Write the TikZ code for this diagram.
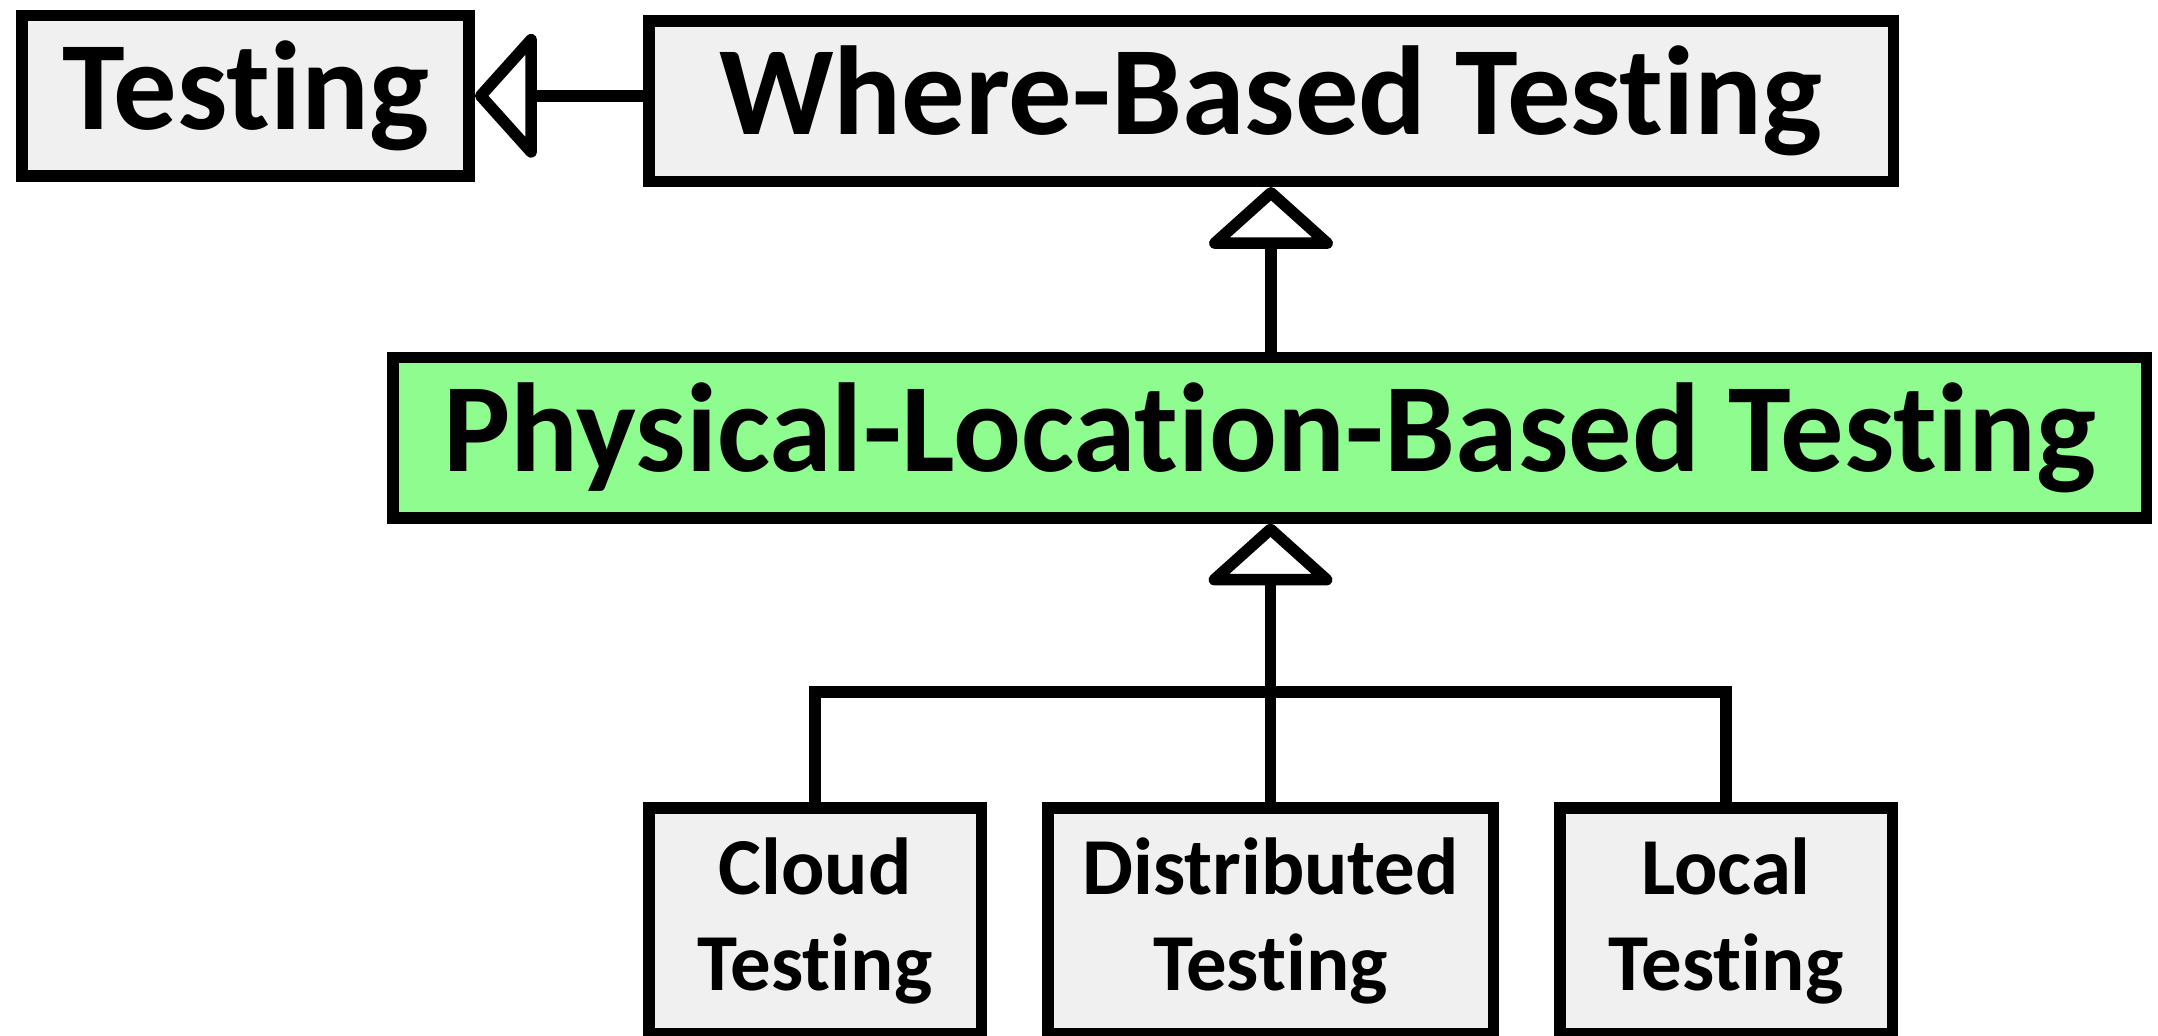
\documentclass[tikz,border=0pt]{standalone}
\usepackage{fontspec}
\setmainfont[Ligatures=NoCommon]{Carlito}
\usetikzlibrary{arrows.meta}
\definecolor{boxgray}{RGB}{240,240,240}
\definecolor{boxgreen}{RGB}{143,252,143}
\tikzset{
  box/.style={draw, line width=0.115cm, fill=boxgray, inner sep=0pt, minimum height=1.605cm, font=\fontsize{36}{40}\selectfont\bfseries},
  leaf/.style={box, minimum height=2.26cm, align=center, font=\fontsize{23}{27.5}\selectfont\bfseries},
  isa/.style={line width=0.115cm, -{Triangle[open, round, length=0.64cm, width=1.4cm]}},
  link/.style={line width=0.115cm}
}
\begin{document}
\begin{tikzpicture}
\useasboundingbox (0,0) rectangle (21.58,-10.36);
\node[box, minimum width=4.47cm] (T)  at (2.457,-0.958) {Testing};
\node[box, minimum width=12.445cm] (W) at (12.71,-1.01) {Where-Based Testing};
\node[box, fill=boxgreen, minimum width=17.535cm] (P) at (12.695,-4.375) {Physical-Location-Based Testing};
\node[leaf, minimum width=3.325cm] (CT) at (8.15,-9.21)  {Cloud\\Testing};
\node[leaf, minimum width=4.455cm] (DT) at (12.705,-9.21) {Distributed\\Testing};
\node[leaf, minimum width=3.325cm] (LT) at (17.26,-9.21) {Local\\Testing};
\coordinate (J) at (12.705,-6.92);

\draw[isa] (W.west |- T.east) -- (T.east);
\draw[isa] (P.north -| W.south) -- (W.south);
\draw[isa] (DT.north) -- (P.south -| DT.north);
\draw[link] (CT.north) |- (J) -| (LT.north);
\end{tikzpicture}
\end{document}
